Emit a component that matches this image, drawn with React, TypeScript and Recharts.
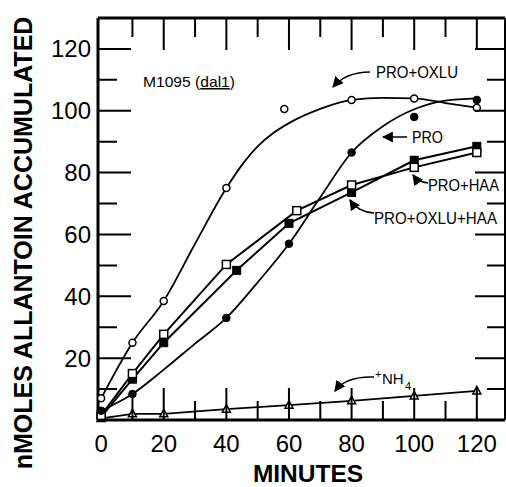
import React from 'react';
import { ComposedChart, Line, XAxis, YAxis } from 'recharts';

const oxluX = [0, 10, 20, 40, 58.5, 80, 100, 120];
const oxluY = [7, 25, 38.5, 75, 100.6, 103.5, 104, 101];
// hand-drawn fitted curve for PRO+OXLU
const oxluFitX = [0, 10, 20, 30, 40, 45, 50, 55, 60, 70, 80, 90, 100, 110, 120];
const oxluFitY = [7, 25, 38.5, 57, 75, 82.5, 88.5, 92.8, 96, 100.6, 103.5, 104.2, 104, 102.5, 101];

const proX = [0, 10, 40, 60, 80, 100, 120];
const proY = [3, 8.4, 33, 57, 86.5, 98, 103.5];
const proFitX = [0, 10, 20, 30, 40, 50, 60, 70, 80, 90, 100, 110, 120];
const proFitY = [3, 8.4, 16.3, 24.7, 33, 44.5, 57, 72, 86.5, 95, 100.5, 103.3, 104];

const haaX = [0, 10, 20, 40, 62.5, 80, 100, 120];
const haaY = [1.5, 15, 27.7, 50.3, 67.7, 76, 81.7, 86.5];

const oxluHaaX = [0, 10, 20, 43.3, 60, 80, 100, 120];
const oxluHaaY = [1, 13.2, 25, 48.4, 63.6, 73.6, 84, 88.5];

const nh4X = [0, 10, 20, 40, 60, 80, 100, 120];
const nh4Y = [0.5, 2, 2, 3.5, 4.8, 6.2, 7.8, 9.4];

const xLabelTicks = [0, 20, 40, 60, 80, 100, 120];
const yLabelTicks = [20, 40, 60, 80, 100, 120];
const innerTicks = [10, 20, 30, 40, 50, 60, 70, 80, 90, 100, 110, 120];

const W = 506;
const H = 487;
const PLOT = { left: 98, right: 505, top: 18, bottom: 420 };
const xDomain = [-1, 129];
const yDomain = [0, 130];
const pxPerX = (PLOT.right - PLOT.left) / (xDomain[1] - xDomain[0]);
const pxPerY = (PLOT.bottom - PLOT.top) / (yDomain[1] - yDomain[0]);
const sx = (v: number) => PLOT.left + (v - xDomain[0]) * pxPerX;
const sy = (v: number) => PLOT.bottom - (v - yDomain[0]) * pxPerY;

const pts = (xs: number[], ys: number[]) => xs.map((x, i) => ({ x, y: ys[i] }));

const FONT = '"Liberation Sans", Arial, Helvetica, sans-serif';

// inward tick lengths in pixels
const leftLen = (v: number) => (v % 20 === 0 ? 33 : 19);
const rightLen = (v: number) => (v % 20 === 0 ? 30 : 18);
const topLen = (v: number) => (v % 20 === 0 ? 32 : 19);
const bottomLen = (v: number) => (v === 10 ? 26 : v % 20 === 0 ? 32 : 19);

const openCircle = (p: any) => (
  <circle key={`oc-${p.index}`} cx={p.cx} cy={p.cy} r={3.5} fill="#fff" stroke="#000" strokeWidth={1.5} />
);
const filledCircle = (p: any) => (
  <circle key={`fc-${p.index}`} cx={p.cx} cy={p.cy} r={3.8} fill="#000" stroke="#000" strokeWidth={1} />
);
const openSquare = (p: any) => (
  <rect key={`os-${p.index}`} x={p.cx - 4} y={p.cy - 4} width={8} height={8} fill="#fff" stroke="#000" strokeWidth={1.5} />
);
const filledSquare = (p: any) => (
  <rect key={`fs-${p.index}`} x={p.cx - 4} y={p.cy - 4} width={8} height={8} fill="#000" stroke="#000" strokeWidth={1} />
);
const openTriangle = (p: any) => (
  <path
    key={`ot-${p.index}`}
    d={`M${p.cx},${p.cy - 4.5} L${p.cx + 4},${p.cy + 3} L${p.cx - 4},${p.cy + 3} Z`}
    fill="#fff"
    stroke="#000"
    strokeWidth={1.5}
  />
);

const LeftTick = (props: any) => {
  const { x, y, payload } = props;
  return (
    <text x={x - 7} y={y} dy={8.5} textAnchor="end" fontSize={24} fontFamily={FONT} fill="#000">
      {payload.value}
    </text>
  );
};

const BottomTick = (props: any) => {
  const { x, y, payload } = props;
  return (
    <text x={x} y={y} dy={32} textAnchor="middle" fontSize={24} fontFamily={FONT} fill="#000">
      {payload.value}
    </text>
  );
};

// frame + inward ticks on all four sides
const frameTicks = [
  `M${PLOT.left},${PLOT.top}H${PLOT.right}`,
  ...innerTicks.map((v) => `M${PLOT.left},${sy(v)}h${leftLen(v)}`),
  ...innerTicks.map((v) => `M${PLOT.right},${sy(v)}h${-rightLen(v)}`),
  ...innerTicks.map((v) => `M${sx(v)},${PLOT.top}v${topLen(v)}`),
  ...innerTicks.map((v) => `M${sx(v)},${PLOT.bottom}v${-bottomLen(v)}`),
].join(' ');

const Annotations = () => (
  <svg
    width={W}
    height={H}
    style={{ position: 'absolute', left: 0, top: 0, pointerEvents: 'none' }}
    fontFamily={FONT}
  >
    <defs>
      <marker id="head" viewBox="0 0 10 10" refX="9" refY="5" markerWidth="11" markerHeight="11" markerUnits="userSpaceOnUse" orient="auto">
        <path d="M0,0 L10,5 L0,10 Z" fill="#000" />
      </marker>
    </defs>

    <path d={frameTicks} fill="none" stroke="#000" strokeWidth={2} />
    <path d={`M${PLOT.left},${PLOT.top}H${PLOT.right}`} fill="none" stroke="#000" strokeWidth={3} />
    <path d={`M${PLOT.right},${PLOT.top}V${PLOT.bottom}`} fill="none" stroke="#000" strokeWidth={2} />

    <text x={23} y={243} transform="rotate(-90 23 243)" dy={9} textAnchor="middle" fontSize={25} fontWeight="bold" fill="#000">
      nMOLES ALLANTOIN ACCUMULATED
    </text>
    <text x={308} y={482} textAnchor="middle" fontSize={24.5} fontWeight="bold" fill="#000">
      MINUTES
    </text>

    <text x={143} y={87} fontSize={15} textLength={92} lengthAdjust="spacingAndGlyphs" fill="#000">
      M1095 (<tspan textDecoration="underline">dal1</tspan>)
    </text>

    <text x={376} y={78} fontSize={16} textLength={82} lengthAdjust="spacingAndGlyphs" fill="#000">PRO+OXLU</text>
    <path d="M370,72 Q346,72 333,87" fill="none" stroke="#000" strokeWidth={1.5} markerEnd="url(#head)" />

    <text x={412} y={143} fontSize={16} textLength={31} lengthAdjust="spacingAndGlyphs" fill="#000">PRO</text>
    <path d="M407,137 L383,137" fill="none" stroke="#000" strokeWidth={1.5} markerEnd="url(#head)" />

    <text x={428} y={191} fontSize={16} textLength={71} lengthAdjust="spacingAndGlyphs" fill="#000">PRO+HAA</text>
    <path d="M428,183 Q418,182 413,175" fill="none" stroke="#000" strokeWidth={1.5} markerEnd="url(#head)" />

    <text x={374} y={224} fontSize={16} textLength={123} lengthAdjust="spacingAndGlyphs" fill="#000">PRO+OXLU+HAA</text>
    <path d="M374,213 Q358,212 350,200" fill="none" stroke="#000" strokeWidth={1.5} markerEnd="url(#head)" />

    <text x={375} y={378} fontSize={11} fill="#000">+</text>
    <text x={382} y={384} fontSize={15} fill="#000">NH</text>
    <text x={405} y={390} fontSize={11} fill="#000">4</text>
    <path d="M374,377 Q346,376 335,391" fill="none" stroke="#000" strokeWidth={1.5} markerEnd="url(#head)" />
  </svg>
);

export default function App() {
  return (
    <div style={{ position: 'absolute', left: 0, top: 0, width: W, height: H, background: '#fff' }}>
      <ComposedChart width={W} height={H} margin={{ top: PLOT.top, right: W - PLOT.right, bottom: 0, left: 0 }}>
        <XAxis
          xAxisId="bottom"
          dataKey="x"
          type="number"
          domain={xDomain}
          ticks={xLabelTicks}
          height={H - PLOT.bottom}
          tickSize={0}
          tickMargin={0}
          axisLine={{ stroke: '#000', strokeWidth: 3 }}
          tick={BottomTick}
        />
        <YAxis
          yAxisId="left"
          dataKey="y"
          type="number"
          domain={yDomain}
          ticks={yLabelTicks}
          width={PLOT.left}
          tickSize={0}
          tickMargin={0}
          axisLine={{ stroke: '#000', strokeWidth: 3 }}
          tick={LeftTick}
        />

        <Line xAxisId="bottom" yAxisId="left" data={pts(nh4X, nh4Y)} dataKey="y" type="linear" stroke="#000" strokeWidth={1.8} dot={openTriangle} isAnimationActive={false} />
        <Line xAxisId="bottom" yAxisId="left" data={pts(oxluFitX, oxluFitY)} dataKey="y" type="monotone" stroke="#000" strokeWidth={1.8} dot={false} isAnimationActive={false} />
        <Line xAxisId="bottom" yAxisId="left" data={pts(proFitX, proFitY)} dataKey="y" type="monotone" stroke="#000" strokeWidth={1.8} dot={false} isAnimationActive={false} />
        <Line xAxisId="bottom" yAxisId="left" data={pts(oxluHaaX, oxluHaaY)} dataKey="y" type="linear" stroke="#000" strokeWidth={2} dot={filledSquare} isAnimationActive={false} />
        <Line xAxisId="bottom" yAxisId="left" data={pts(haaX, haaY)} dataKey="y" type="linear" stroke="#000" strokeWidth={2} dot={openSquare} isAnimationActive={false} />
        <Line xAxisId="bottom" yAxisId="left" data={pts(proX, proY)} dataKey="y" type="linear" stroke="none" dot={filledCircle} isAnimationActive={false} />
        <Line xAxisId="bottom" yAxisId="left" data={pts(oxluX, oxluY)} dataKey="y" type="linear" stroke="none" dot={openCircle} isAnimationActive={false} />
      </ComposedChart>
      <Annotations />
    </div>
  );
}
